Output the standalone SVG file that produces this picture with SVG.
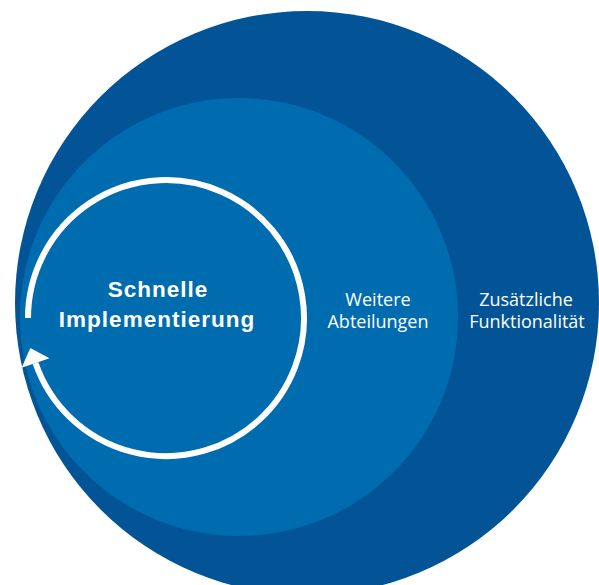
<svg xmlns="http://www.w3.org/2000/svg" width="599" height="585" viewBox="0 0 599 585">
  <style>
    .bold { font-family: "Liberation Sans", Arial, sans-serif; font-weight: bold; font-size: 22.5px; fill: #ffffff; letter-spacing: 1px; }
    .lbl { font-family: "Open Sans", "Noto Sans", sans-serif; font-size: 18px; fill: #ffffff; }
  </style>
  <rect width="599" height="585" fill="#ffffff"/>
  <g id="outer">
    <circle cx="307" cy="303" r="292" fill="#035496"/>
    <text class="lbl" text-anchor="middle" x="526" y="306">Zusätzliche</text>
    <text class="lbl" text-anchor="middle" x="527" y="328">Funktionalität</text>
  </g>
  <g id="middle">
    <circle cx="239" cy="317" r="219" fill="#006cb0"/>
    <text class="lbl" text-anchor="middle" x="378" y="306">Weitere</text>
    <text class="lbl" text-anchor="middle" x="378" y="328">Abteilungen</text>
  </g>
  <g id="connectors">
    <path d="M 28 318 A 138 138 0 1 1 35.5 363" fill="none" stroke="#ffffff" stroke-width="6"/>
    <polygon points="30.3,347.9 49.5,358.2 21.6,367.8" fill="#ffffff"/>
  </g>
  <g id="inner">
    <text class="bold" text-anchor="middle" x="158" y="297">Schnelle</text>
    <text class="bold" text-anchor="middle" x="157" y="327">Implementierung</text>
  </g>
</svg>
